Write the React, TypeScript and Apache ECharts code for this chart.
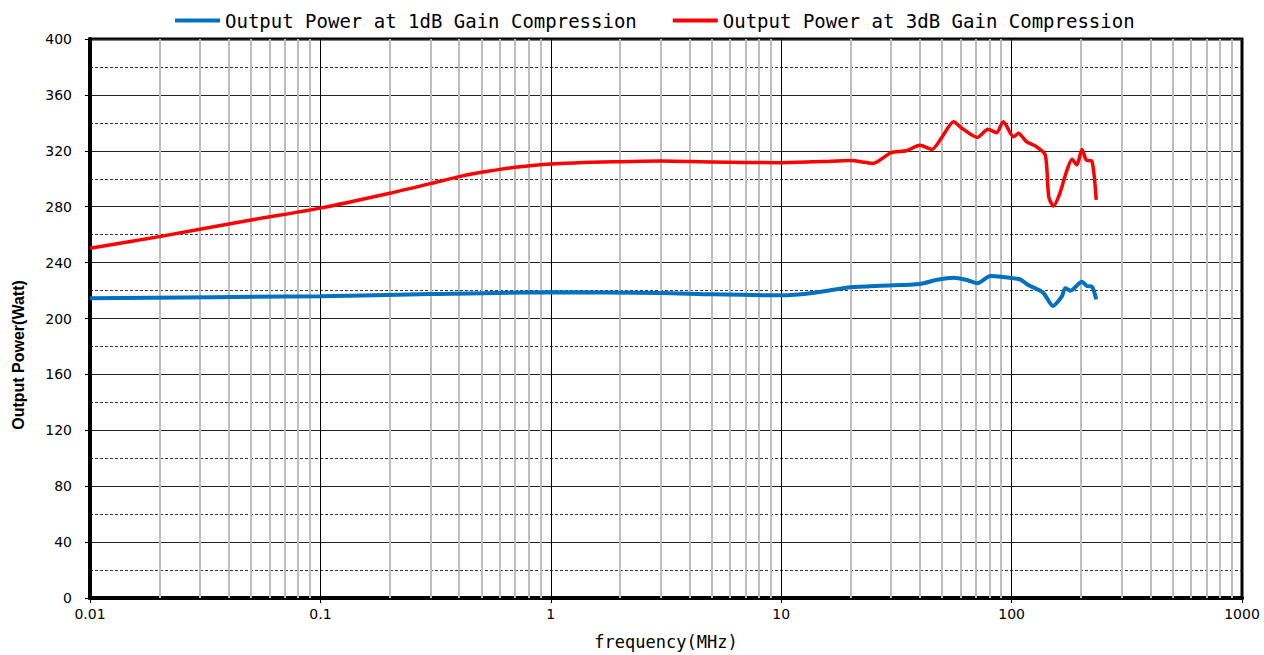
import React, { useEffect, useRef } from "react";
import * as echarts from "echarts";

const SERIES_1DB = "Output Power at 1dB Gain Compression";
const SERIES_3DB = "Output Power at 3dB Gain Compression";

const freq1dB = [0.01, 0.1, 0.3, 1, 3, 5, 10, 14, 20, 27, 40, 47, 56, 64, 71, 81, 90, 102, 109, 118, 137, 151, 165, 171, 180, 202, 212, 223, 233];
const power1dB = [214.5, 216, 217.5, 218.7, 218.3, 217.3, 216.6, 218.5, 222.3, 223.5, 224.7, 227.5, 229.2, 227.5, 225.2, 230.4, 229.9, 228.7, 228, 224, 218.5, 209, 215.6, 221.6, 219.9, 226.3, 223.3, 222.8, 213.7];

const freq3dB = [0.01, 0.02, 0.05, 0.1, 0.2, 0.3, 0.4, 0.5, 0.7, 1, 2, 3, 5, 10, 15, 20, 25, 30, 35, 40, 45, 50, 56, 61, 71, 79, 86, 92, 102, 107, 116, 128, 140, 145, 152, 162, 173, 183, 192, 202, 211, 223, 233];
const power3dB = [250.2, 258.6, 270.5, 279, 289.6, 296.5, 301.5, 304.6, 308.2, 310.6, 312.2, 312.7, 312, 311.5, 312.3, 313, 311, 318.7, 320, 324, 321, 330, 340.8, 336, 329.6, 335.4, 333, 340.8, 330, 332.5, 326.6, 323, 317, 287, 280.5, 289.6, 305, 314, 310, 321, 313.4, 312.7, 284.8];

const decades = [0.01, 0.1, 1, 10, 100];
const minorMultipliers = [2, 3, 4, 5, 6, 7, 8, 9];

const X_MIN = 0.01;
const X_MAX = 1000;
const Y_MIN = 0;
const Y_MAX = 400;
const Y_INTERVAL = 40;

const X_TITLE = "frequency(MHz)";
const Y_TITLE = "Output Power(Watt)";

function fmtLog(v: number): string {
  return String(Number(v.toPrecision(6)));
}

export default function App() {
  const ref = useRef<HTMLDivElement>(null);

  useEffect(() => {
    document.body.style.margin = "0";
    if (!ref.current) return;
    const chart = echarts.init(ref.current, undefined, { renderer: "svg" });

    const minorLines: { xAxis: number }[] = [];
    decades.forEach((d) => {
      minorMultipliers.forEach((m) => {
        minorLines.push({ xAxis: Number((d * m).toPrecision(6)) });
      });
    });

    const mono = "'DejaVu Sans Mono', monospace";

    chart.setOption({
      animation: false,
      backgroundColor: "#ffffff",
      legend: {
        data: [SERIES_1DB, SERIES_3DB],
        top: 6,
        left: 170,
        icon: "rect",
        itemWidth: 45,
        itemHeight: 4,
        itemGap: 36,
        textStyle: { fontFamily: mono, fontSize: 19, color: "#000" },
      },
      grid: {
        left: 90,
        right: 22,
        top: 39,
        bottom: 57,
        outerBoundsMode: "none",
        containLabel: false,
        show: true,
        borderColor: "#000",
        borderWidth: 3,
        backgroundColor: "#fff",
      },
      graphic: [
        {
          type: "text",
          x: 18,
          y: 355,
          rotation: Math.PI / 2,
          style: {
            text: Y_TITLE,
            fontFamily: "'Liberation Sans Narrow', 'Liberation Sans', sans-serif",
            fontWeight: "bold",
            fontSize: 16,
            fill: "#000",
            align: "center",
            verticalAlign: "middle",
          },
        },
      ],
      xAxis: {
        type: "log",
        logBase: 10,
        min: X_MIN,
        max: X_MAX,
        z: 3,
        name: X_TITLE,
        nameLocation: "middle",
        nameGap: 35,
        nameTextStyle: { fontFamily: mono, fontSize: 17, color: "#000", lineHeight: 18 },
        axisLine: { show: true, onZero: false, lineStyle: { color: "#000", width: 4 } },
        axisTick: { show: true, length: 5, lineStyle: { color: "#000", width: 1 } },
        axisLabel: {
          formatter: (v: number) => fmtLog(v),
          fontFamily: "'DejaVu Sans', sans-serif",
          fontSize: 14,
          color: "#000",
          margin: 9,
        },
        splitLine: { show: true, lineStyle: { color: "#000", width: 1 } },
      },
      yAxis: {
        type: "value",
        min: Y_MIN,
        max: Y_MAX,
        interval: Y_INTERVAL,
        z: 3,
        axisLine: { show: true, lineStyle: { color: "#000", width: 4 } },
        axisTick: { show: true, length: 5, lineStyle: { color: "#000", width: 1 } },
        axisLabel: {
          fontFamily: "'DejaVu Sans', sans-serif",
          fontSize: 14,
          color: "#000",
          margin: 18,
        },
        splitLine: { show: true, lineStyle: { color: "#222", width: 1 } },
        minorTick: { show: false, splitNumber: 2 },
        minorSplitLine: { show: true, lineStyle: { color: "#333", width: 1, type: [3, 2] } },
      },
      series: [
        {
          name: "minor-grid",
          type: "line",
          z: 1,
          silent: true,
          symbol: "none",
          data: [[X_MIN, Y_MIN], [X_MAX, Y_MIN]],
          lineStyle: { width: 0, opacity: 0 },
          markLine: {
            silent: true,
            symbol: ["none", "none"],
            label: { show: false },
            lineStyle: { color: "#bdbdbd", width: 2, type: "solid" },
            data: minorLines,
          },
        },
        {
          name: SERIES_1DB,
          type: "line",
          z: 5,
          symbol: "none",
          smooth: 0.25,
          color: "#0070c0",
          lineStyle: { color: "#0070c0", width: 4 },
          data: freq1dB.map((f, i) => [f, power1dB[i]]),
        },
        {
          name: SERIES_3DB,
          type: "line",
          z: 5,
          symbol: "none",
          smooth: 0.25,
          color: "#ff0000",
          lineStyle: { color: "#ff0000", width: 3.5 },
          data: freq3dB.map((f, i) => [f, power3dB[i]]),
        },
      ],
    });

    return () => {
      chart.dispose();
    };
  }, []);

  return <div ref={ref} style={{ width: 1264, height: 655 }} />;
}
